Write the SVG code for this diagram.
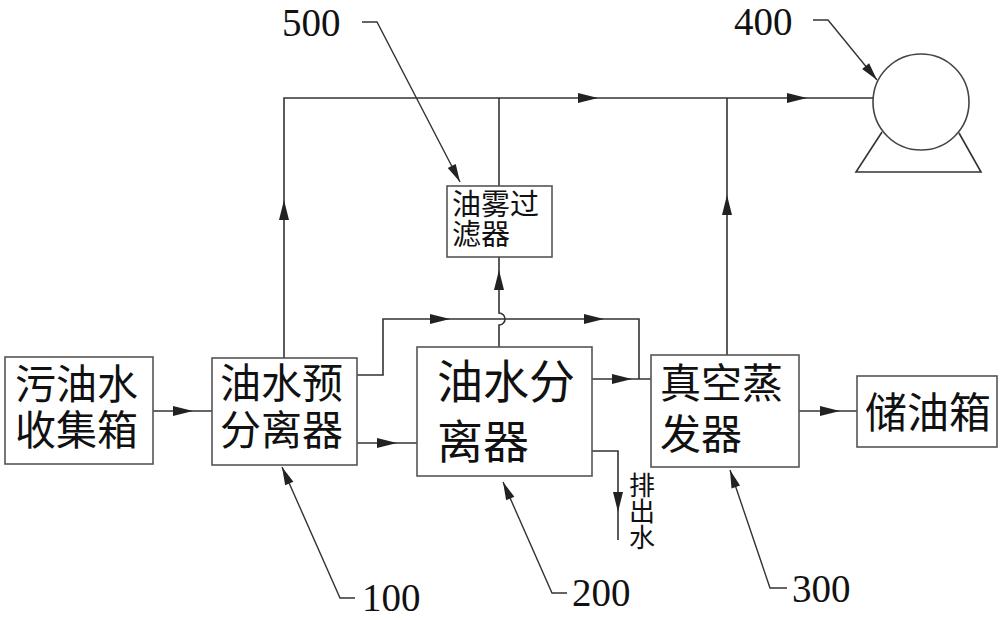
<svg xmlns="http://www.w3.org/2000/svg" xmlns:xlink="http://www.w3.org/1999/xlink" width="1000" height="620" viewBox="0 0 1000 620">
<style>
.box{fill:#fff;stroke:#555;stroke-width:1.6}
.ln{fill:none;stroke:#333;stroke-width:1.6}
.ld{fill:none;stroke:#333;stroke-width:1.4}
.cn{font-family:"Noto Sans CJK SC","Noto Sans CJK JP",sans-serif;fill:#111}
.num{font-family:"Liberation Serif",serif;font-size:39px;fill:#111}
.ah{fill:#222}
</style>
<defs>
<path id="ah" d="M0,0 L-20,-5 L-20,5 Z"/>
<path id="la" d="M0,0 L-18,-4.5 L-18,4.5 Z"/>
</defs>
<rect width="1000" height="620" fill="#fff"/>

<g id="connectors">
<path class="ln" d="M153,411 H212"/>
<use xlink:href="#ah" class="ah" transform="translate(193,411)"/>
<path class="ln" d="M357,443 H417"/>
<use xlink:href="#ah" class="ah" transform="translate(397,443)"/>
<path class="ln" d="M284,358 V98 H873"/>
<use xlink:href="#ah" class="ah" transform="translate(284,200) rotate(-90)"/>
<use xlink:href="#ah" class="ah" transform="translate(598,98)"/>
<use xlink:href="#ah" class="ah" transform="translate(807,98)"/>
<path class="ln" d="M499,98 V186"/>
<path class="ln" d="M499,347 V325 A6,6 0 0 0 499,313 V257"/>
<use xlink:href="#ah" class="ah" transform="translate(499,270) rotate(-90)"/>
<path class="ln" d="M357,375 H383 V319 H639 V379"/>
<use xlink:href="#ah" class="ah" transform="translate(450,319)"/>
<use xlink:href="#ah" class="ah" transform="translate(604,319)"/>
<path class="ln" d="M592,379 H651"/>
<use xlink:href="#ah" class="ah" transform="translate(632,379)"/>
<path class="ln" d="M592,451 H618 V540"/>
<use xlink:href="#ah" class="ah" transform="translate(618,512) rotate(90)"/>
<path class="ln" d="M727,355 V98"/>
<use xlink:href="#ah" class="ah" transform="translate(727,195) rotate(-90)"/>
<path class="ln" d="M799,411 H857"/>
<use xlink:href="#ah" class="ah" transform="translate(840,411)"/>

<path class="ld" d="M362,22 H377 L460,182"/>
<use xlink:href="#la" class="ah" transform="translate(460,182) rotate(62.6)"/>
<path class="ld" d="M813,20 H828 L877,80"/>
<use xlink:href="#la" class="ah" transform="translate(877,80) rotate(50.8)"/>
<path class="ld" d="M355,598 H340 L282,467"/>
<use xlink:href="#la" class="ah" transform="translate(282,467) rotate(-113.9)"/>
<path class="ld" d="M567,593 H552 L503,482"/>
<use xlink:href="#la" class="ah" transform="translate(503,482) rotate(-113.8)"/>
<path class="ld" d="M787,588 H770 L730,470"/>
<use xlink:href="#la" class="ah" transform="translate(730,470) rotate(-108.7)"/>
</g>

<g id="collector">
<rect class="box" x="5" y="357" width="148" height="107"/>
<text class="cn" font-size="41"><tspan x="15" y="399">污油水</tspan><tspan x="15" y="445">收集箱</tspan></text>
</g>

<g id="pre-separator">
<rect class="box" x="212" y="358" width="145" height="107"/>
<text class="cn" font-size="41"><tspan x="220" y="398">油水预</tspan><tspan x="220" y="445">分离器</tspan></text>
</g>

<g id="separator">
<rect class="box" x="417" y="347" width="175" height="129"/>
<text class="cn" font-size="46"><tspan x="437" y="398">油水分</tspan><tspan x="437" y="458">离器</tspan></text>
</g>

<g id="filter">
<rect class="box" x="447" y="186" width="105" height="71"/>
<text class="cn" font-size="29"><tspan x="452" y="215">油雾过</tspan><tspan x="452" y="245">滤器</tspan></text>
</g>

<g id="evaporator">
<rect class="box" x="651" y="355" width="148" height="112"/>
<text class="cn" font-size="41"><tspan x="660" y="398">真空蒸</tspan><tspan x="660" y="449">发器</tspan></text>
</g>

<g id="oil-tank">
<rect class="box" x="857" y="376" width="140" height="71"/>
<text class="cn" font-size="42" x="865" y="428">储油箱</text>
</g>

<g id="pump">
<circle cx="921" cy="102" r="48" fill="#fff" stroke="#444" stroke-width="1.6"/>
<path class="ln" d="M882,132 L856,172 H981 L959,133" stroke="#444"/>
</g>

<g id="water-label">
<text class="cn" font-size="26" writing-mode="vertical-rl" x="642" y="472">排出水</text>
</g>

<g id="labels">
<text class="num" x="282" y="36">500</text>
<text class="num" x="734" y="35">400</text>
<text class="num" x="362" y="611">100</text>
<text class="num" x="572" y="606">200</text>
<text class="num" x="792" y="602">300</text>
</g>
</svg>
